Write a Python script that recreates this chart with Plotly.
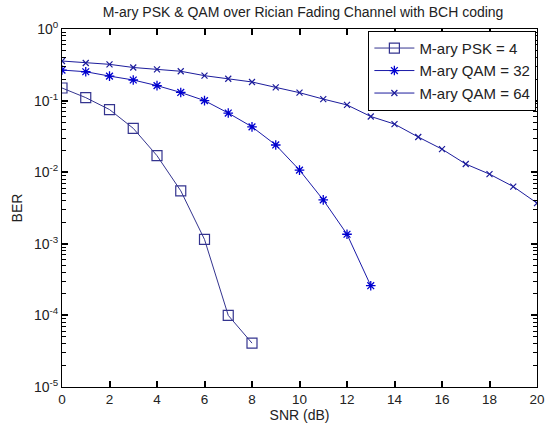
import plotly.graph_objects as go

snr_psk = [0, 1, 2, 3, 4, 5, 6, 7, 8]
ber_psk = [0.15, 0.11, 0.075, 0.041, 0.017, 0.0055, 0.00115, 1.0e-4, 4.1e-5]

snr_qam32 = [0, 1, 2, 3, 4, 5, 6, 7, 8, 9, 10, 11, 12, 13]
ber_qam32 = [0.267, 0.253, 0.22, 0.194, 0.162, 0.13, 0.1, 0.067, 0.043, 0.024,
             0.0107, 0.0041, 0.00136, 2.6e-4]

snr_qam64 = list(range(21))
ber_qam64 = [0.357, 0.335, 0.321, 0.29, 0.273, 0.257, 0.223, 0.202, 0.182, 0.153,
             0.129, 0.105, 0.087, 0.06, 0.047, 0.031, 0.021, 0.013, 0.0094, 0.0063,
             0.0037]

names = ["M-ary PSK = 4", "M-ary QAM = 32", "M-ary QAM = 64"]
x_ticks = [0, 2, 4, 6, 8, 10, 12, 14, 16, 18, 20]
y_tick_exps = [0, -1, -2, -3, -4, -5]
minor_y = [m * 10 ** e for e in range(-5, 0) for m in range(2, 10)]

font = "Liberation Sans, Arial, sans-serif"

fig = go.Figure()
fig.add_trace(go.Scatter(
    x=snr_psk, y=ber_psk, name=names[0], mode="lines+markers",
    line=dict(color="#34348f", width=1),
    marker=dict(symbol="square-open", size=10, color="#34348f", line=dict(width=1.2))))
fig.add_trace(go.Scatter(
    x=snr_qam32, y=ber_qam32, name=names[1], mode="lines+markers",
    line=dict(color="#1a1aa8", width=1),
    marker=dict(symbol="asterisk-open", size=8, color="#0000d0", line=dict(width=1.3))))
fig.add_trace(go.Scatter(
    x=snr_qam64, y=ber_qam64, name=names[2], mode="lines+markers",
    line=dict(color="#1c1c9c", width=1),
    marker=dict(symbol="x-thin-open", size=6, color="#1c1c9c", line=dict(width=1.2))))

fig.update_layout(
    width=551, height=429,
    margin=dict(l=62, r=6, t=29, b=42),
    paper_bgcolor="white", plot_bgcolor="white",
    font=dict(family=font, size=12, color="black"),
    title=dict(text="M-ary PSK & QAM over Rician Fading Channel with BCH coding",
               x=0.55, xanchor="center", y=0.972, yanchor="middle",
               font=dict(size=14, family=font, color="#222")),
    showlegend=True,
    legend=dict(x=0.645, xanchor="left", y=0.995, yanchor="top",
                bgcolor="white", bordercolor="black", borderwidth=1,
                font=dict(size=15, family=font, color="#222"), tracegroupgap=0,
                itemwidth=40),
)

fig.update_xaxes(
    range=[0, 20], tickmode="array", tickvals=x_ticks,
    ticktext=[str(v) for v in x_ticks],
    ticks="inside", ticklen=6, tickwidth=1.5, tickcolor="black",
    ticklabeloverflow="allow",
    showline=True, linecolor="black", linewidth=1, mirror="ticks",
    showgrid=False, zeroline=False,
    tickfont=dict(size=13.5, family=font, color="#222"),
    title=dict(text="SNR (dB)", font=dict(size=14, family=font, color="#222"), standoff=2),
)
fig.update_yaxes(
    type="log", range=[-5, 0], tickmode="array",
    tickvals=[10 ** e for e in y_tick_exps],
    ticktext=["10<sup>%d</sup>" % e for e in y_tick_exps],
    ticks="inside", ticklen=6, tickwidth=1.5, tickcolor="black",
    ticklabeloverflow="allow",
    minor=dict(ticks="inside", ticklen=4, tickwidth=1.2, tickcolor="black",
               tickmode="array", tickvals=minor_y, showgrid=False),
    showline=True, linecolor="black", linewidth=1, mirror="ticks",
    showgrid=False, zeroline=False,
    tickfont=dict(size=14, family=font, color="#222"),
    title=dict(text="BER", font=dict(size=14, family=font, color="#222"), standoff=8),
)

fig.write_html("out.html")
